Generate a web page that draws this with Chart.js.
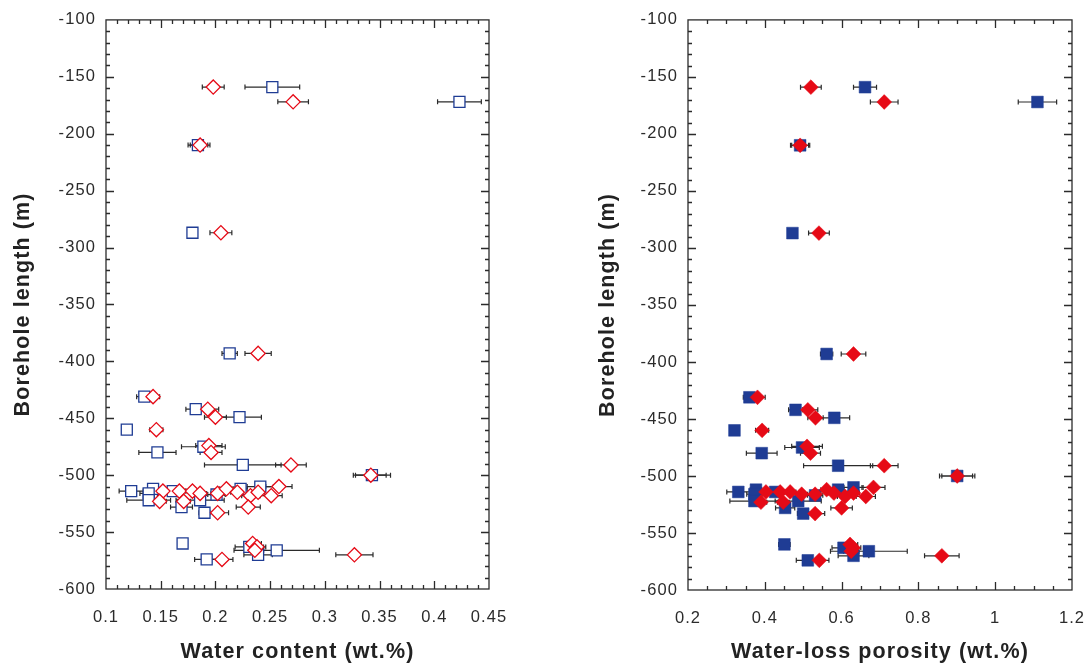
<!DOCTYPE html>
<html lang="en">
<head>
<meta charset="UTF-8">
<title>Water content and water-loss porosity</title>
<script src="https://cdn.jsdelivr.net/npm/chart.js"></script>
<style>
  body { margin: 0; background: #fff; overflow: hidden; }
  #wrap { position: relative; width: 1092px; height: 670px; }
  canvas { position: absolute; top: 0; }
</style>
</head>
<body>
<div id="wrap">
  <canvas id="left-chart" width="546" height="670" style="left:0"></canvas>
  <canvas id="right-chart" width="546" height="670" style="left:546px"></canvas>
</div>

<script>
// blue squares
const depthSq    = [-159, -172, -210, -287, -393, -431, -442, -449, -460, -475, -480, -491, -500,
                    -514, -512, -516, -522, -514, -528, -522, -533, -517, -512, -510,
                    -560, -574, -563, -570, -566];
const waterSq    = [0.252, 0.423, 0.184, 0.179, 0.213, 0.135, 0.182, 0.222, 0.119, 0.189, 0.147, 0.225, 0.343,
                    0.123, 0.143, 0.139, 0.139, 0.161, 0.169, 0.186, 0.190, 0.201, 0.223, 0.241,
                    0.170, 0.192, 0.231, 0.239, 0.256];
const waterSqErr = [0.025, 0.020, 0.009, 0, 0.007, 0.007, 0.009, 0.020, 0, 0.020, 0.017, 0.035, 0.017,
                    0.011, 0.005, 0.008, 0.020, 0.006, 0.010, 0.022, 0.005, 0.008, 0.006, 0.012,
                    0.004, 0.011, 0.013, 0.013, 0.039];
const porSq      = [0.661, 1.110, 0.492, 0.472, 0.561, 0.360, 0.480, 0.581, 0.321, 0.497, 0.392, 0.591, 0.901,
                    0.331, 0.377, 0.373, 0.373, 0.427, 0.453, 0.487, 0.500, 0.531, 0.591, 0.631,
                    0.451, 0.512, 0.605, 0.631, 0.671];
const porSqErr   = [0.030, 0.050, 0.022, 0, 0.016, 0.016, 0.018, 0.040, 0, 0.045, 0.040, 0.090, 0.046,
                    0.030, 0.015, 0.020, 0.064, 0.015, 0.025, 0.060, 0.015, 0.020, 0.015, 0.025,
                    0.015, 0.030, 0.030, 0.040, 0.100];

// red diamonds
const depthDm    = [-159, -172, -210, -287, -393, -431, -442, -449, -460, -474, -480, -491, -500,
                    -514, -523, -514, -523, -514, -516, -516, -512, -515, -518, -515, -518, -510, -528, -533,
                    -560, -563, -566, -574, -570];
const waterDm    = [0.198, 0.271, 0.186, 0.205, 0.239, 0.143, 0.193, 0.200, 0.146, 0.194, 0.196, 0.269, 0.342,
                    0.152, 0.149, 0.167, 0.171, 0.179, 0.186, 0.202, 0.210, 0.220, 0.232, 0.239, 0.251, 0.258, 0.230, 0.202,
                    0.234, 0.238, 0.236, 0.206, 0.327];
const waterDmErr = [0.010, 0.014, 0.009, 0.010, 0.012, 0.006, 0.010, 0.010, 0.006, 0.012, 0.010, 0.014, 0.014,
                    0.006, 0.006, 0.006, 0.006, 0.006, 0.006, 0.006, 0.006, 0.006, 0.008, 0.006, 0.010, 0.012, 0.011, 0.010,
                    0.008, 0.008, 0.008, 0.010, 0.017];
const porDm      = [0.520, 0.711, 0.492, 0.541, 0.631, 0.381, 0.512, 0.532, 0.393, 0.510, 0.519, 0.711, 0.901,
                    0.403, 0.390, 0.440, 0.448, 0.466, 0.496, 0.531, 0.561, 0.580, 0.609, 0.631, 0.663, 0.683, 0.600, 0.531,
                    0.622, 0.630, 0.625, 0.542, 0.861];
const porDmErr   = [0.027, 0.036, 0.025, 0.027, 0.032, 0.020, 0.026, 0.020, 0.017, 0.040, 0.026, 0.036, 0.040,
                    0.015, 0.015, 0.015, 0.015, 0.015, 0.015, 0.015, 0.015, 0.015, 0.020, 0.015, 0.025, 0.030, 0.028, 0.025,
                    0.020, 0.020, 0.020, 0.025, 0.045];

const BLUE = '#1f3c94';
const RED = '#e60a16';
const INK = '#2b2b2b';

function points(xs, ys, es) {
    return xs.map((x, i) => ({ x: x, y: ys[i], e: es[i] }));
}

// error bars under the markers, box + inward ticks on all four sides
const framePlugin = {
    id: 'frame',
    beforeDraw(chart) {
        // the reference lettering is a bit wider than Liberation Sans
        chart.ctx.letterSpacing = '1.1px';
    },
    beforeDatasetsDraw(chart) {
        const ctx = chart.ctx;
        const xs = chart.scales.x;
        ctx.save();
        ctx.strokeStyle = INK;
        ctx.lineWidth = 1.2;
        chart.data.datasets.forEach((ds, di) => {
            const meta = chart.getDatasetMeta(di);
            meta.data.forEach((el, i) => {
                const p = ds.data[i];
                if (!p.e) return;
                const x1 = xs.getPixelForValue(p.x - p.e);
                const x2 = xs.getPixelForValue(p.x + p.e);
                const y = el.y;
                ctx.beginPath();
                ctx.moveTo(x1, y); ctx.lineTo(x2, y);
                ctx.moveTo(x1, y - 2.5); ctx.lineTo(x1, y + 2.5);
                ctx.moveTo(x2, y - 2.5); ctx.lineTo(x2, y + 2.5);
                ctx.stroke();
            });
        });
        ctx.restore();
    },
    afterDraw(chart, args, opts) {
        const ctx = chart.ctx;
        const a = chart.chartArea;
        const xs = chart.scales.x, ys = chart.scales.y;
        ctx.save();
        ctx.strokeStyle = INK;
        ctx.lineWidth = 1.3;
        ctx.strokeRect(a.left, a.top, a.right - a.left, a.bottom - a.top);
        ctx.beginPath();
        const tickX = (step, len) => {
            const n = Math.round((xs.max - xs.min) / step);
            for (let i = 1; i < n; i++) {
                const px = Math.round(xs.getPixelForValue(xs.min + i * step)) + 0.5;
                ctx.moveTo(px, a.bottom); ctx.lineTo(px, a.bottom - len);
                ctx.moveTo(px, a.top); ctx.lineTo(px, a.top + len);
            }
        };
        const tickY = (step, len) => {
            const n = Math.round((ys.max - ys.min) / step);
            for (let i = 1; i < n; i++) {
                const py = Math.round(ys.getPixelForValue(ys.min + i * step)) + 0.5;
                ctx.moveTo(a.left, py); ctx.lineTo(a.left + len, py);
                ctx.moveTo(a.right, py); ctx.lineTo(a.right - len, py);
            }
        };
        tickX(opts.xMinor, 4);
        tickX(opts.xMajor, 8);
        tickY(opts.yMinor, 4);
        tickY(opts.yMajor, 8);
        ctx.stroke();
        ctx.restore();
    }
};

const tickFont = { family: 'Liberation Sans, Arial, sans-serif', size: 16.5 };
const titleFont = { family: 'Liberation Sans, Arial, sans-serif', size: 21.5, weight: 'bold' };

function makeChart(id, cfg) {
    return new Chart(document.getElementById(id), {
        type: 'scatter',
        data: {
            datasets: [
                {
                    data: cfg.sq,
                    pointStyle: 'rect',
                    radius: cfg.filled ? 8.3 : 7.8,
                    borderColor: BLUE,
                    backgroundColor: cfg.filled ? BLUE : '#fff',
                    borderWidth: cfg.filled ? 0.5 : 1.3,
                    order: 2
                },
                {
                    data: cfg.dm,
                    pointStyle: 'rectRot',
                    radius: cfg.filled ? 7.4 : 7.1,
                    borderColor: RED,
                    backgroundColor: cfg.filled ? RED : '#fff',
                    borderWidth: cfg.filled ? 0.5 : 1.3,
                    order: 1
                }
            ]
        },
        options: {
            responsive: false,
            animation: false,
            layout: { padding: { left: 0, right: cfg.padRight, top: 19, bottom: 0 } },
            plugins: {
                legend: { display: false },
                tooltip: { enabled: false },
                frame: { xMajor: cfg.xStep, xMinor: cfg.xMinor, yMajor: 50, yMinor: 10 }
            },
            scales: {
                x: {
                    type: 'linear',
                    min: cfg.xMin,
                    max: cfg.xMax,
                    grid: { display: false, drawTicks: false },
                    border: { display: false },
                    afterFit: s => {
                        s.height = cfg.xHeight;
                        s.paddingLeft = 0;
                        s.paddingRight = 0;
                    },
                    ticks: {
                        stepSize: cfg.xStep,
                        padding: 19,
                        color: INK,
                        font: tickFont,
                        maxRotation: 0,
                        callback: v => String(+v.toFixed(2))
                    },
                    title: { display: true, text: cfg.xTitle, color: '#222', font: titleFont, padding: { top: 0, bottom: 5 } }
                },
                y: {
                    type: 'linear',
                    min: -600,
                    max: -100,
                    grid: { display: false, drawTicks: false },
                    border: { display: false },
                    afterFit: s => { s.width = cfg.yWidth; },
                    ticks: { stepSize: 50, padding: 10, color: INK, font: tickFont },
                    title: { display: true, text: 'Borehole length (m)', color: '#222', font: titleFont, padding: { top: cfg.yTitlePad, bottom: 0 } }
                }
            }
        },
        plugins: [framePlugin]
    });
}

makeChart('left-chart', {
    sq: points(waterSq, depthSq, waterSqErr),
    dm: points(waterDm, depthDm, waterDmErr),
    filled: false,
    xMin: 0.1, xMax: 0.45, xStep: 0.05, xMinor: 0.01,
    xTitle: 'Water content (wt.%)',
    yWidth: 106, padRight: 57, xHeight: 81, yTitlePad: 10
});

makeChart('right-chart', {
    sq: points(porSq, depthSq, porSqErr),
    dm: points(porDm, depthDm, porDmErr),
    filled: true,
    xMin: 0.2, xMax: 1.2, xStep: 0.2, xMinor: 0.05,
    xTitle: 'Water-loss porosity (wt.%)',
    yWidth: 142, padRight: 20, xHeight: 80, yTitlePad: 49
});
</script>
</body>
</html>
